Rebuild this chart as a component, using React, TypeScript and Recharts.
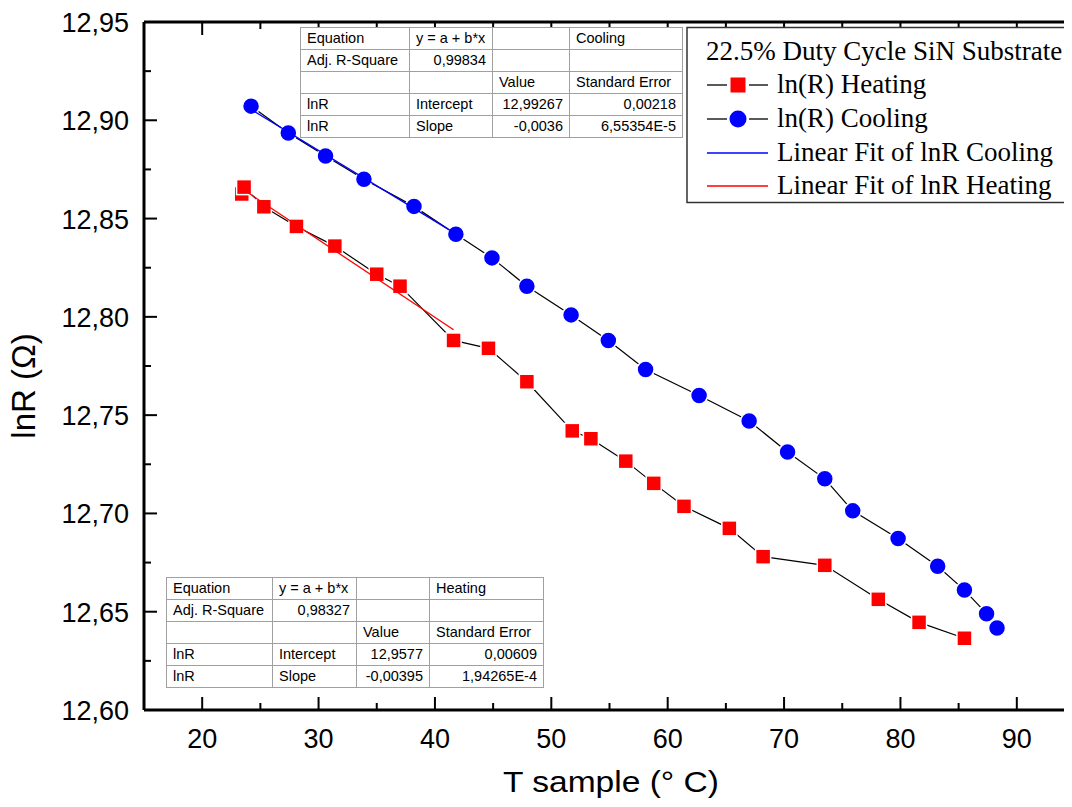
import React from "react";
import { ScatterChart, Scatter, XAxis, YAxis } from "recharts";

// heating run (red squares)
const heatingT = [23.4, 23.6, 25.3, 28.1, 31.4, 35.0, 37.0, 41.6, 44.6, 47.9, 51.8, 53.4, 56.4, 58.8, 61.4, 65.3, 68.2, 73.5, 78.1, 81.6, 85.5];
const heatingLnR = [12.8625, 12.866, 12.856, 12.846, 12.836, 12.8217, 12.8156, 12.788, 12.784, 12.767, 12.742, 12.738, 12.7266, 12.7153, 12.7036, 12.6924, 12.678, 12.6736, 12.6563, 12.6446, 12.6365];

// cooling run (blue circles)
const coolingT = [24.2, 27.4, 30.6, 33.9, 38.2, 41.8, 44.9, 47.9, 51.7, 54.9, 58.1, 62.7, 67.0, 70.3, 73.5, 75.9, 79.8, 83.2, 85.5, 87.4, 88.3];
const coolingLnR = [12.9072, 12.8935, 12.8818, 12.870, 12.8562, 12.842, 12.830, 12.8156, 12.801, 12.788, 12.7732, 12.760, 12.747, 12.7313, 12.7176, 12.7013, 12.6872, 12.6731, 12.661, 12.649, 12.6417];

// linear fit end points
const coolingFitT = [24.2, 41.8];
const coolingFitLnR = [12.9055, 12.8422];
const heatingFitT = [23.4, 41.6];
const heatingFitLnR = [12.8653, 12.7934];

const xTicks = [15, 20, 25, 30, 35, 40, 45, 50, 55, 60, 65, 70, 75, 80, 85, 90, 95];
const yTicks = [12.6, 12.625, 12.65, 12.675, 12.7, 12.725, 12.75, 12.775, 12.8, 12.825, 12.85, 12.875, 12.9, 12.925, 12.95];

const coolingTable = [
  ["Equation", "y = a + b*x", "", "Cooling"],
  ["Adj. R-Square", "0,99834", "", ""],
  ["", "", "Value", "Standard Error"],
  ["lnR", "Intercept", "12,99267", "0,00218"],
  ["lnR", "Slope", "-0,0036", "6,55354E-5"],
];
const heatingTable = [
  ["Equation", "y = a + b*x", "", "Heating"],
  ["Adj. R-Square", "0,98327", "", ""],
  ["", "", "Value", "Standard Error"],
  ["lnR", "Intercept", "12,9577", "0,00609"],
  ["lnR", "Slope", "-0,00395", "1,94265E-4"],
];

const toPoints = (xs: number[], ys: number[]) => xs.map((x, i) => ({ x, y: ys[i] }));

const sans = "Arial, 'Liberation Sans', sans-serif";
const serif = "'Times New Roman', 'Liberation Serif', serif";

const RedSquare = (props: any) => {
  const { cx, cy } = props;
  return <rect x={cx - 7.5} y={cy - 7.5} width={15} height={15} fill="#ff0000" stroke="#fff" strokeWidth={1.5} />;
};
const BlueCircle = (props: any) => {
  const { cx, cy } = props;
  return <circle cx={cx} cy={cy} r={8.5} fill="#0000ff" stroke="#fff" strokeWidth={1.5} />;
};
const NoDot = () => <g />;

const BottomTick = (props: any) => {
  const { x, y, payload } = props;
  const major = payload.value % 10 === 0;
  return (
    <g>
      <line x1={x} x2={x} y1={y} y2={y - (major ? 13 : 7)} stroke="#000" strokeWidth={2} />
      {major && (
        <text x={x} y={y + 38} textAnchor="middle" fontSize={27} fontFamily={sans} fill="#000">
          {payload.value}
        </text>
      )}
    </g>
  );
};

const TopTick = (props: any) => {
  const { x, y, payload } = props;
  const major = payload.value % 10 === 0;
  return <line x1={x} x2={x} y1={y} y2={y + (major ? 13 : 7)} stroke="#000" strokeWidth={2} />;
};

const LeftTick = (props: any) => {
  const { x, y, payload } = props;
  const major = Math.round(payload.value * 1000) % 50 === 0;
  return (
    <g>
      <line x1={x} x2={x + (major ? 13 : 7)} y1={y} y2={y} stroke="#000" strokeWidth={2} />
      {major && (
        <text x={x - 15} y={y + 10} textAnchor="end" fontSize={27} fontFamily={sans} fill="#000">
          {payload.value.toFixed(2).replace(".", ",")}
        </text>
      )}
    </g>
  );
};

function FitTable({ rows, left, top, widths }: { rows: string[][]; left: number; top: number; widths: number[] }) {
  return (
    <table
      style={{
        position: "absolute",
        left,
        top,
        borderCollapse: "collapse",
        tableLayout: "fixed",
        background: "#fff",
        fontFamily: sans,
        fontSize: 14.5,
        color: "#000",
        border: "1px solid #666",
      }}
    >
      <tbody>
        {rows.map((r, i) => (
          <tr key={i}>
            {r.map((c, j) => (
              <td
                key={j}
                style={{
                  width: widths[j] - 13,
                  height: 21,
                  padding: "0 6px",
                  border: "1px solid #a0a0a0",
                  textAlign: /^-?\d/.test(c) ? "right" : "left",
                  whiteSpace: "nowrap",
                  lineHeight: "21px",
                }}
              >
                {c}
              </td>
            ))}
          </tr>
        ))}
      </tbody>
    </table>
  );
}

export default function App() {
  return (
    <div style={{ position: "relative", width: 1072, height: 807, overflow: "hidden", margin: -8, background: "#fff" }}>
      <ScatterChart width={1100} height={807} margin={{ top: 0, right: 25, bottom: 0, left: 0 }}>
        <XAxis
          xAxisId="top"
          orientation="top"
          type="number"
          dataKey="x"
          domain={[15, 95]}
          ticks={xTicks}
          interval={0}
          height={22}
          tickSize={0}
          tickMargin={0}
          tickLine={false}
          tick={<TopTick />}
          axisLine={{ stroke: "#000", strokeWidth: 3 }}
          allowDataOverflow
        />
        <XAxis
          type="number"
          dataKey="x"
          domain={[15, 95]}
          ticks={xTicks}
          interval={0}
          height={97}
          tickSize={0}
          tickMargin={0}
          tickLine={false}
          tick={<BottomTick />}
          axisLine={{ stroke: "#000", strokeWidth: 3 }}
          allowDataOverflow
        />
        <YAxis
          type="number"
          dataKey="y"
          domain={[12.6, 12.95]}
          ticks={yTicks}
          interval={0}
          width={144}
          tickSize={0}
          tickMargin={0}
          tickLine={false}
          tick={<LeftTick />}
          axisLine={{ stroke: "#000", strokeWidth: 3 }}
          allowDataOverflow
        />
        <Scatter data={toPoints(heatingT, heatingLnR)} line={{ stroke: "#000", strokeWidth: 1.2 }} shape={RedSquare} isAnimationActive={false} />
        <Scatter data={toPoints(coolingT, coolingLnR)} line={{ stroke: "#000", strokeWidth: 1.2 }} shape={BlueCircle} isAnimationActive={false} />
        <Scatter data={toPoints(coolingFitT, coolingFitLnR)} line={{ stroke: "#0000ff", strokeWidth: 1.3 }} shape={NoDot} isAnimationActive={false} />
        <Scatter data={toPoints(heatingFitT, heatingFitLnR)} line={{ stroke: "#ff0000", strokeWidth: 1.3 }} shape={NoDot} isAnimationActive={false} />
      </ScatterChart>

      <svg width={1072} height={807} style={{ position: "absolute", left: 0, top: 0, pointerEvents: "none" }}>
        <text x={611} y={792} textAnchor="middle" fontSize={29} fontFamily={sans} textLength={216} lengthAdjust="spacingAndGlyphs">
          T sample (° C)
        </text>
        <text x={35} y={386} transform="rotate(-90, 35, 386)" textAnchor="middle" fontSize={33} fontFamily={sans}>
          lnR (Ω)
        </text>

        {/* legend */}
        <rect x={687} y={27.5} width={380} height={175} fill="#fff" stroke="#333" strokeWidth={1.5} />
        <g fontFamily={serif} fontSize={27} fill="#000">
          <text x={706} y={60}>22.5% Duty Cycle SiN Substrate</text>
          <text x={777} y={93}>ln(R) Heating</text>
          <text x={777} y={127}>ln(R) Cooling</text>
          <text x={777} y={161}>Linear Fit of lnR Cooling</text>
          <text x={777} y={194}>Linear Fit of lnR Heating</text>
        </g>
        <line x1={707} x2={727} y1={85} y2={85} stroke="#000" strokeWidth={1.3} />
        <line x1={749} x2={768} y1={85} y2={85} stroke="#000" strokeWidth={1.3} />
        <rect x={730.5} y={77.5} width={15} height={15} fill="#ff0000" />
        <line x1={707} x2={727} y1={119} y2={119} stroke="#000" strokeWidth={1.3} />
        <line x1={749} x2={768} y1={119} y2={119} stroke="#000" strokeWidth={1.3} />
        <circle cx={738} cy={119} r={8.5} fill="#0000ff" />
        <line x1={707} x2={768} y1={153} y2={153} stroke="#0000ff" strokeWidth={1.5} />
        <line x1={707} x2={768} y1={186} y2={186} stroke="#ff0000" strokeWidth={1.5} />
      </svg>

      <FitTable rows={coolingTable} left={300} top={27} widths={[109, 83, 77, 113]} />
      <FitTable rows={heatingTable} left={166} top={577} widths={[106, 84, 73, 114]} />
    </div>
  );
}
